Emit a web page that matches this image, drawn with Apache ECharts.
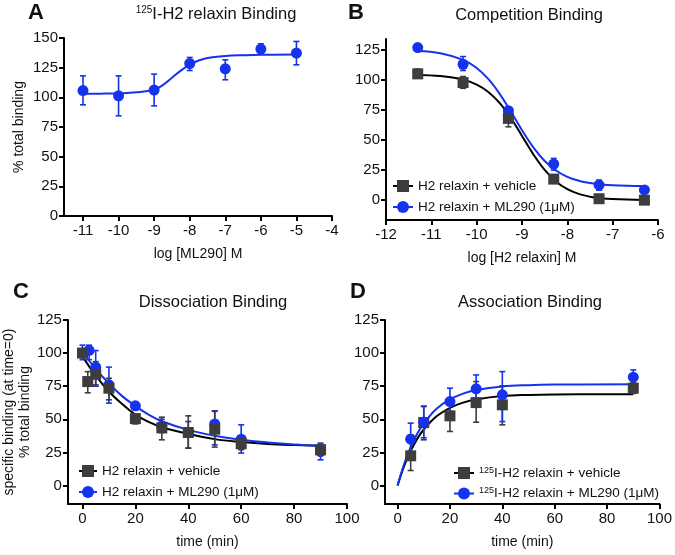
<!DOCTYPE html>
<html>
<head>
    <meta charset="UTF-8">
    <title>relaxin binding</title>
    <style>
        body, html { margin: 0; padding: 0; background: #fff; }
        #container { width: 675px; height: 555px; }
    </style>
</head>
<body>
<div id="container"></div>
<script src="https://cdn.jsdelivr.net/npm/echarts@6/dist/echarts.min.js"></script>
<script>
    // ---- A: 125I-H2 relaxin binding vs ML290
    var aDose = [-11, -10, -9, -8, -7, -6, -5];
    var aMean = [105.7, 101.3, 106.1, 128.5, 124, 140.7, 137.3];
    var aLow  = [93.7, 84.4, 92.8, 122.6, 114.8, 136.7, 127.4];
    var aHigh = [118.1, 118.1, 119.6, 133.6, 131.6, 145.1, 147.1];
    var aFitX = [-11, -10.5, -10, -9.5, -9, -8.75, -8.5, -8.25, -8, -7.75, -7.5, -7, -6.5, -6, -5];
    var aFitY = [103, 103.1, 103.4, 104.2, 106.5, 110.5, 116.5, 122.5, 127.5, 131, 133.2, 134.8, 135.5, 135.9, 136];

    // ---- B: competition binding
    var bDose = [-11.3, -10.3, -9.3, -8.3, -7.3, -6.3];
    var bVehMean = [105, 97.8, 68, 17.5, 1.2, 0];
    var bVehLow  = [101.5, 93, 61, 15, -1, -2];
    var bVehHigh = [109, 102.8, 72.2, 20, 3.5, 2];
    var bMlMean = [126.9, 113, 74.4, 30, 12.5, 8.5];
    var bMlLow  = [125, 107.8, 71, 25, 8.3, 7];
    var bMlHigh = [129, 119.4, 77, 34.7, 16.7, 10];
    var bFitX = [-11.3, -10.8, -10.3, -10, -9.75, -9.5, -9.25, -9, -8.75, -8.5, -8.25, -8, -7.75, -7.5, -7.3, -7, -6.3];
    var bVehFit = [104.1, 103.2, 100.2, 96.1, 90.2, 81.1, 68.5, 53.4, 38.1, 25.1, 15.5, 9.1, 5.2, 2.9, 1.8, 0.9, 0.2];
    var bMlFit = [124.1, 122.2, 116.7, 109.9, 101, 88.8, 73.9, 58.2, 43.9, 32.6, 24.7, 19.4, 16.2, 14.2, 13.3, 12.4, 11.7];

    // ---- C: dissociation binding
    var cTimeVeh = [0, 2, 5, 10, 20, 30, 40, 50, 60, 90];
    var cVehMean = [100, 78.5, 84, 73.5, 50.5, 43.5, 40, 42.5, 31.5, 27];
    var cVehLow  = [97, 70, 76, 64.7, 46.5, 34.5, 28.2, 29, 27, 23];
    var cVehHigh = [103, 86, 93.5, 81, 54, 51.6, 52.6, 56, 36, 31];
    var cTimeMl = [0, 2.5, 5, 10, 20, 30, 40, 50, 60, 90];
    var cMlMean = [100, 102, 89.4, 76, 60.2, 45, 40, 46.5, 35, 25.5];
    var cMlLow  = [95, 95, 75, 62.2, 57, 40, 28.2, 30.7, 24.5, 19.4];
    var cMlHigh = [106, 106, 101.9, 89.4, 63, 50, 48.3, 56.4, 45.8, 32];
    var cFitT = [0, 5, 10, 15, 20, 25, 30, 40, 50, 60, 70, 80, 90];
    var cVehFit = [97.5, 83, 71, 61.5, 53.5, 48, 44, 39, 35, 32.8, 31.3, 30.5, 30];
    var cMlFit = [101, 88, 77, 67.5, 60, 53.5, 48.5, 42, 37.5, 34.5, 32.5, 31, 30];

    // ---- D: association binding
    var dTime = [5, 10, 20, 30, 40, 90];
    var dVehMean = [22.4, 47.5, 52.6, 62.6, 60.9, 73.5];
    var dVehLow  = [11.3, 34.5, 40.8, 47.8, 45.8, 69.5];
    var dVehHigh = [38.3, 59.6, 64.7, 78.5, 75.2, 77.5];
    var dMlMean = [35, 48, 63.4, 73, 68.5, 81.8];
    var dMlLow  = [25, 36, 53, 61, 48.3, 76];
    var dMlHigh = [47.1, 60, 73.5, 83.5, 86, 87.3];
    var dFitT = [0, 2.5, 5, 7.5, 10, 15, 20, 25, 30, 40, 50, 60, 90];
    var dVehFit = [0, 14.6, 26.1, 35.2, 42.3, 52.4, 58.7, 62.6, 65, 67.5, 68.4, 68.8, 69];
    var dMlFit = [0, 16.2, 28.9, 39, 46.9, 58.1, 65, 69.4, 72.1, 74.8, 75.8, 76.2, 76.5];

    // tick labels
    var aXTicks = [-11, -10, -9, -8, -7, -6, -5, -4];
    var aYTicks = [0, 25, 50, 75, 100, 125, 150];
    var bXTicks = [-12, -11, -10, -9, -8, -7, -6];
    var bYTicks = [0, 25, 50, 75, 100, 125];
    var timeTicks = [0, 20, 40, 60, 80, 100];
    var cdYTicks = [0, 25, 50, 75, 100, 125];

    var legendText = {
        B1: 'H2 relaxin + vehicle',
        B2: 'H2 relaxin + ML290 (1\u03bcM)',
        C1: 'H2 relaxin + vehicle',
        C2: 'H2 relaxin + ML290 (1\u03bcM)',
        D1: '{s|125}I-H2 relaxin + vehicle',
        D2: '{s|125}I-H2 relaxin + ML290 (1\u03bcM)'
    };

    var BLUE = '#1533ee';
    var GREY = '#3d3d3d';
    var FONT = 'Liberation Sans';

    function zip(xs, ys) {
        return xs.map(function (x, i) { return [x, ys[i]]; });
    }

    function xAxisOf(idx, min, max, ticks, name) {
        return {
            type: 'value', gridIndex: idx, min: min, max: max,
            name: name, nameLocation: 'middle', nameGap: 31,
            nameTextStyle: {fontFamily: FONT, fontSize: 14, color: '#111'},
            splitLine: {show: false},
            axisLine: {onZero: false, lineStyle: {color: '#000', width: 2}},
            axisTick: {customValues: ticks, length: 5, lineStyle: {width: 2, color: '#000'}},
            axisLabel: {customValues: ticks, margin: 7, fontFamily: FONT, fontSize: 15, color: '#111'}
        };
    }

    function yAxisOf(idx, min, max, ticks, name, gap) {
        return {
            type: 'value', gridIndex: idx, min: min, max: max,
            name: name, nameLocation: 'middle', nameGap: gap || 37,
            nameTextStyle: {fontFamily: FONT, fontSize: 14, color: '#111', lineHeight: 16},
            splitLine: {show: false},
            axisLine: {onZero: false, lineStyle: {color: '#000', width: 2}},
            axisTick: {customValues: ticks, length: 5, lineStyle: {width: 2, color: '#000'}},
            axisLabel: {customValues: ticks, margin: 6, fontFamily: FONT, fontSize: 15, color: '#111'}
        };
    }

    function fitLine(idx, name, xs, ys, lineColor, symbol, fill) {
        return {
            type: 'line', name: name, xAxisIndex: idx, yAxisIndex: idx,
            data: zip(xs, ys), smooth: 0.4,
            showSymbol: false, symbol: symbol, z: 2, silent: true,
            lineStyle: {color: lineColor, width: 2},
            itemStyle: {color: fill}
        };
    }

    function points(idx, xs, ys, symbol, color) {
        return {
            type: 'scatter', xAxisIndex: idx, yAxisIndex: idx,
            data: zip(xs, ys), symbol: symbol, symbolSize: 11, z: 4,
            itemStyle: {color: color, opacity: 1}
        };
    }

    // vertical error bars with small caps
    function errBars(idx, xs, lows, highs, color) {
        var data = xs.map(function (x, i) { return [x, lows[i], highs[i]]; });
        return {
            type: 'custom', xAxisIndex: idx, yAxisIndex: idx, z: 3, silent: true,
            encode: {x: 0, y: [1, 2]},
            data: data,
            renderItem: function (params, api) {
                var hi = api.coord([api.value(0), api.value(2)]);
                var lo = api.coord([api.value(0), api.value(1)]);
                var w = 3;
                var st = {stroke: color, lineWidth: 1.6};
                return {
                    type: 'group',
                    children: [
                        {type: 'line', shape: {x1: hi[0], y1: hi[1], x2: lo[0], y2: lo[1]}, style: st},
                        {type: 'line', shape: {x1: hi[0] - w, y1: hi[1], x2: hi[0] + w, y2: hi[1]}, style: st},
                        {type: 'line', shape: {x1: lo[0] - w, y1: lo[1], x2: lo[0] + w, y2: lo[1]}, style: st}
                    ]
                };
            }
        };
    }

    function legendOf(names, left, top, gap, width) {
        return {
            data: names, orient: 'vertical', left: left, top: top, padding: 0,
            itemWidth: width, itemHeight: 15, itemGap: gap, selectedMode: false,
            formatter: function (n) { return legendText[n]; },
            textStyle: {
                fontFamily: FONT, fontSize: 13.5, color: '#111',
                rich: {s: {fontFamily: FONT, fontSize: 9, verticalAlign: 'top', color: '#111'}}
            }
        };
    }

    function label(text, x, y, size, bold) {
        return {
            type: 'text', x: x, y: y, silent: true,
            style: {
                text: text, fontFamily: FONT, fontSize: size, fontWeight: bold ? 'bold' : 'normal',
                fill: '#111', align: bold ? 'left' : 'center', verticalAlign: 'middle',
                rich: {
                    s: {fontFamily: FONT, fontSize: 10, verticalAlign: 'top', fill: '#111'},
                    t: {fontFamily: FONT, fontSize: 16.5, fill: '#111'}
                }
            }
        };
    }

    var chart = echarts.init(document.getElementById('container'));
    var option = {
        backgroundColor: '#fff',
        animation: false,
        grid: [
            {left: 64, top: 38, width: 268, height: 178},
            {left: 386, top: 39, width: 272, height: 181},
            {left: 64, top: 320, width: 283, height: 184},
            {left: 385, top: 320, width: 276, height: 184}
        ],
        xAxis: [
            xAxisOf(0, -11.534, -4, aXTicks, 'log [ML290] M'),
            xAxisOf(1, -12, -6, bXTicks, 'log [H2 relaxin] M'),
            xAxisOf(2, -5.5, 100, timeTicks, 'time (min)'),
            xAxisOf(3, -4.8, 100, timeTicks, 'time (min)')
        ],
        yAxis: [
            yAxisOf(0, 0, 150, aYTicks, '% total binding', 37),
            yAxisOf(1, -16.5, 134, bYTicks, ''),
            yAxisOf(2, -14, 125, cdYTicks, 'specific binding (at time=0)\n% total binding', 31),
            yAxisOf(3, -14, 125, cdYTicks, '')
        ],
        legend: [
            legendOf(['B1', 'B2'], 392, 179, 7, 20),
            legendOf(['C1', 'C2'], 78, 464, 7, 18),
            legendOf(['D1', 'D2'], 453, 466, 6.5, 20)
        ],
        graphic: [
            label('A', 28, 13, 22, true),
            label('B', 348, 13, 22, true),
            label('C', 13, 292, 22, true),
            label('D', 350, 292, 22, true),
            label('{s|125}{t|I-H2 relaxin Binding}', 216, 14, 16.5),
            label('Competition Binding', 529, 15, 16.5),
            label('Dissociation Binding', 213, 302, 16.5),
            label('Association Binding', 530, 302, 16.5)
        ],
        series: [
            fitLine(0, 'A1', aFitX, aFitY, BLUE, 'circle', BLUE),
            errBars(0, aDose, aLow, aHigh, BLUE),
            points(0, aDose, aMean, 'circle', BLUE),

            fitLine(1, 'B1', bFitX, bVehFit, '#000', 'rect', GREY),
            fitLine(1, 'B2', bFitX, bMlFit, BLUE, 'circle', BLUE),
            errBars(1, bDose, bVehLow, bVehHigh, GREY),
            errBars(1, bDose, bMlLow, bMlHigh, BLUE),
            points(1, bDose, bMlMean, 'circle', BLUE),
            points(1, bDose, bVehMean, 'rect', GREY),

            fitLine(2, 'C1', cFitT, cVehFit, '#000', 'rect', GREY),
            fitLine(2, 'C2', cFitT, cMlFit, BLUE, 'circle', BLUE),
            errBars(2, cTimeMl, cMlLow, cMlHigh, BLUE),
            points(2, cTimeMl, cMlMean, 'circle', BLUE),
            errBars(2, cTimeVeh, cVehLow, cVehHigh, GREY),
            points(2, cTimeVeh, cVehMean, 'rect', GREY),

            fitLine(3, 'D1', dFitT, dVehFit, '#000', 'rect', GREY),
            fitLine(3, 'D2', dFitT, dMlFit, BLUE, 'circle', BLUE),
            errBars(3, dTime, dVehLow, dVehHigh, GREY),
            points(3, dTime, dVehMean, 'rect', GREY),
            errBars(3, dTime, dMlLow, dMlHigh, BLUE),
            points(3, dTime, dMlMean, 'circle', BLUE)
        ]
    };
    chart.setOption(option);
</script>
</body>
</html>
